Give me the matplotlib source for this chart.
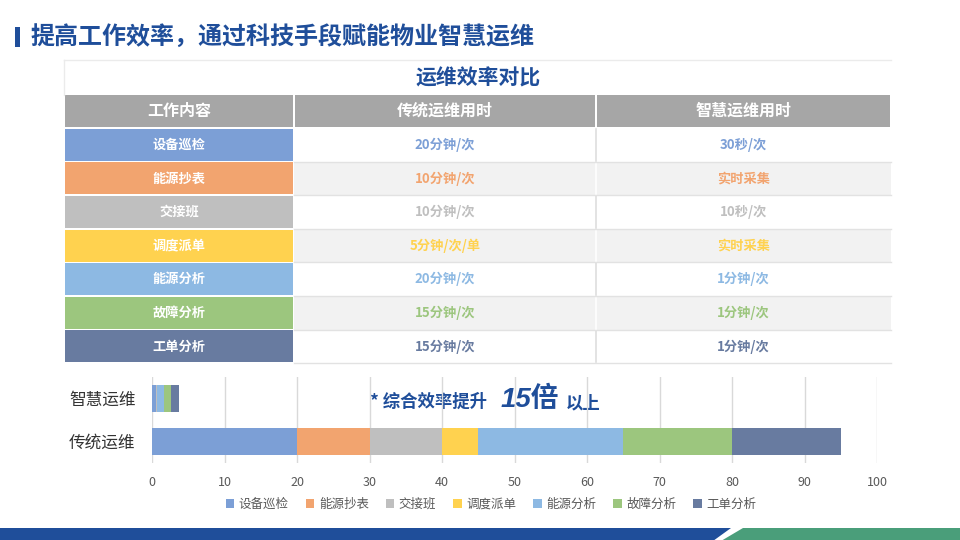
import matplotlib
matplotlib.use('Agg')
import matplotlib.pyplot as plt
from matplotlib.patches import Rectangle, Polygon

plt.rcParams['font.family'] = ['Noto Sans CJK SC', 'DejaVu Sans']

# data
categories = ['设备巡检', '能源抄表', '交接班', '调度派单', '能源分析', '故障分析', '工单分析']
colors = ['#7C9FD6', '#F2A46F', '#BFBFBF', '#FFD24F', '#8DB9E3', '#9CC67E', '#687BA0']
traditional_text = ['20分钟/次', '10分钟/次', '10分钟/次', '5分钟/次/单', '20分钟/次', '15分钟/次', '15分钟/次']
smart_text = ['30秒/次', '实时采集', '10秒/次', '实时采集', '1分钟/次', '1分钟/次', '1分钟/次']
header = ['工作内容', '传统运维用时', '智慧运维用时']
bar_labels = ['传统运维', '智慧运维']
traditional_min = [20, 10, 10, 5, 20, 15, 15]
smart_min = [0.5, 0, 10 / 60, 0, 1, 1, 1]
xticks = list(range(0, 101, 10))

title = '提高工作效率，通过科技手段赋能物业智慧运维'
table_title = '运维效率对比'
blue = '#1F4E9A'

fig = plt.figure(figsize=(9.6, 5.4), dpi=100)
fig.patch.set_facecolor('white')

# overlay in pixel coords for table and decorations
bg = fig.add_axes([0, 0, 1, 1])
bg.set_xlim(0, 960)
bg.set_ylim(540, 0)
bg.axis('off')

# page title
bg.add_patch(Rectangle((15, 27), 5, 20, color=blue, lw=0))
bg.text(30, 37, title, fontsize=17.3, fontweight='bold', color=blue, va='center', ha='left')

# table
col_edges = [64, 294, 596, 891]
bg.plot([64, 891], [60, 60], color='#EBEBEB', lw=1)
bg.plot([64, 64], [60, 95], color='#EBEBEB', lw=1)
bg.text(478, 78, table_title, fontsize=15, fontweight='bold', color=blue, ha='center', va='center')

# header row
for j, h in enumerate(header):
    x0, x1 = col_edges[j], col_edges[j + 1]
    bg.add_patch(Rectangle((x0 + 1, 95), x1 - x0 - 2, 32, color='#A6A6A6', lw=0))
    bg.text((x0 + x1) / 2, 111, h, fontsize=11.5, fontweight='bold', color='white',
            ha='center', va='center')

row_top = 128
pitch = 33.6
for i, cat in enumerate(categories):
    y0 = row_top + i * pitch
    fill = 'white' if i % 2 == 0 else '#F2F2F2'
    sep = '#DEDEDE' if i % 2 == 0 else 'white'
    bg.add_patch(Rectangle((col_edges[1], y0), col_edges[3] - col_edges[1], pitch, color=fill, lw=0))
    bg.add_patch(Rectangle((col_edges[0] + 1, y0 + 0.8), col_edges[1] - col_edges[0] - 2, pitch - 1.6,
                           color=colors[i], lw=0))
    bg.plot([col_edges[2], col_edges[2]], [y0 + 1, y0 + pitch - 1], color=sep, lw=1.2)
    if i > 0:
        bg.plot([col_edges[1], col_edges[3]], [y0, y0], color='#E2E2E2', lw=1)
    yc = y0 + pitch / 2
    bg.text((col_edges[0] + col_edges[1]) / 2, yc, cat, fontsize=9.5, fontweight='bold',
            color='white', ha='center', va='center')
    bg.text((col_edges[1] + col_edges[2]) / 2, yc, traditional_text[i], fontsize=9.5, fontweight='bold',
            color=colors[i], ha='center', va='center')
    bg.text((col_edges[2] + col_edges[3]) / 2, yc, smart_text[i], fontsize=9.5, fontweight='bold',
            color=colors[i], ha='center', va='center')
bg.plot([col_edges[1], col_edges[3]], [row_top + 7 * pitch, row_top + 7 * pitch], color='#E2E2E2', lw=1)

# bottom band
bg.add_patch(Polygon([(0, 528), (731, 528), (713, 541), (0, 541)], closed=True, color='#1F4E9A', lw=0))
bg.add_patch(Polygon([(743, 528), (961, 528), (961, 541), (721, 541)], closed=True, color='#4A9E7A', lw=0))

# stacked bar chart
ax = fig.add_axes([152 / 960, (540 - 463) / 540, 725 / 960, 86 / 540])
ax.set_facecolor('none')
series = [traditional_min, smart_min]
handles = []
for k in range(len(categories)):
    vals = [s[k] for s in series]
    lefts = [sum(s[:k]) for s in series]
    h = ax.barh([0, 1], vals, left=lefts, height=0.65, color=colors[k], lw=0, zorder=3,
                label=categories[k])
    handles.append(h)
ax.set_xlim(0, 100)
ax.set_ylim(-0.5, 1.5)
ax.set_xticks(xticks)
ax.set_yticks([0, 1])
ax.set_yticklabels(bar_labels, fontsize=12, color='#333333')
ax.tick_params(axis='both', length=0)
ax.tick_params(axis='x', labelsize=9, labelcolor='#595959', pad=9)
ax.tick_params(axis='y', pad=12)
ax.grid(axis='x', color='#D9D9D9', lw=1, zorder=0)
for s in ax.spines.values():
    s.set_visible(False)

fig.legend(handles=handles, loc='center', bbox_to_anchor=(491 / 960, 1 - 504 / 540), ncol=7,
           frameon=False, fontsize=9, handlelength=0.7, handleheight=0.7, handletextpad=0.35,
           columnspacing=1.35, labelcolor='#595959')

# annotation
bg.text(370, 402, '* 综合效率提升', fontsize=12.5, fontweight='bold', color=blue, ha='left', va='center')
bg.text(501, 400, '15倍', fontsize=20, fontweight='bold', style='italic', color=blue,
        family=['Liberation Sans', 'Noto Sans CJK SC'], ha='left', va='center')
bg.text(566, 403, '以上', fontsize=12.5, fontweight='bold', color=blue, ha='left', va='center')

fig.savefig('out.png', dpi=100)
